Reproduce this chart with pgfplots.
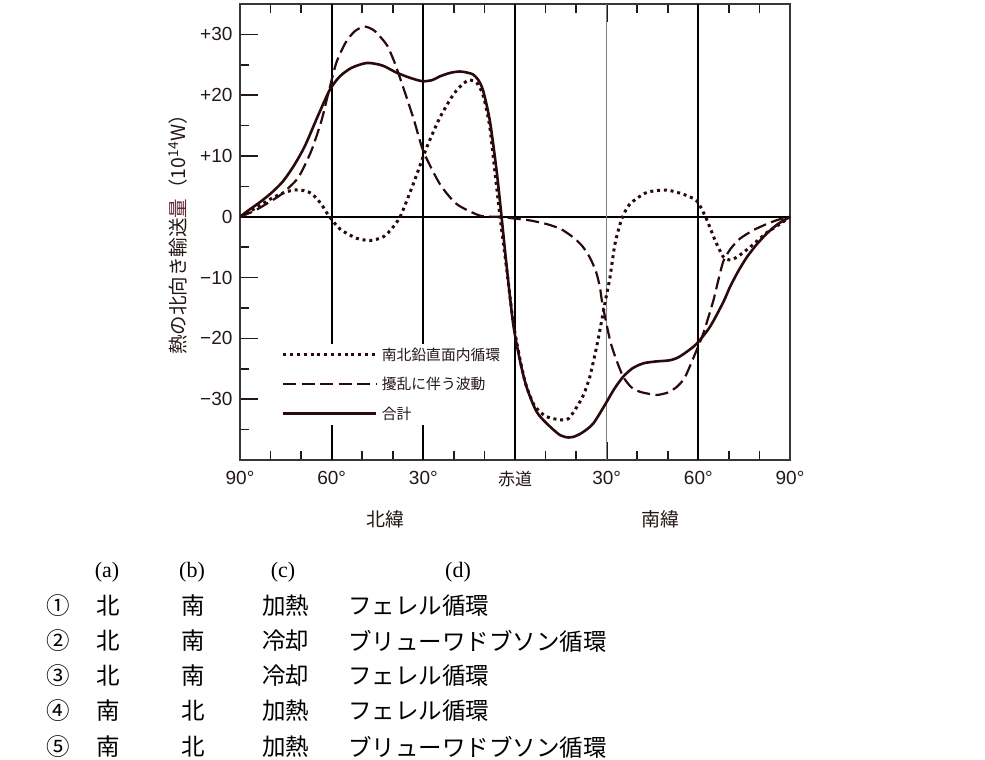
\documentclass[border=0pt]{standalone}
\usepackage{fontspec}
\usepackage{pgfplots}
\pgfplotsset{compat=1.18}
\newfontfamily\jp{Noto Sans CJK JP}
\newfontfamily\lat{Liberation Sans}
\newfontfamily\ser{Liberation Serif}
\definecolor{ink}{RGB}{35,24,21}
\definecolor{curve}{RGB}{42,10,12}
\definecolor{frame}{RGB}{55,55,55}
\definecolor{qty}{RGB}{95,40,50}

\begin{document}
\begin{tikzpicture}
\useasboundingbox (0pt,0pt) rectangle (985pt,-760pt);

\begin{axis}[
  at={(240pt,-460pt)}, anchor=south west,
  scale only axis, width=550pt, height=456pt,
  xmin=-90, xmax=90, ymin=-40, ymax=35,
  axis line style={frame, line width=2.4pt},
  xtick={-90,-60,-30,0,30,60,90},
  xticklabels={90°,60°,30°,{\jp\fontsize{17}{19}\selectfont 赤道},30°,60°,90°},
  minor xtick={-80,-70,-50,-40,-20,-10,10,20,40,50,70,80},
  ytick={-30,-20,-10,0,10,20,30},
  yticklabels={−30,−20,−10,0,+10,+20,+30},
  minor ytick={-35,-25,-15,-5,5,15,25},
  xtick pos=both, ytick pos=left,
  tick align=inside,
  major tick length=18pt, minor tick length=9pt,
  tick style={ink, line width=1.7pt},
  tick label style={text=ink, font=\lat\fontsize{19}{21}\selectfont},
  xticklabel style={yshift=-8pt},
  yticklabel style={xshift=-4pt},
  legend style={at={(rel axis cs:0.072,0.255)}, anchor=north west,
    draw=none, fill=white, inner sep=2pt, row sep=11.5pt, text=ink,
    font=\jp\fontsize{14.8}{17}\selectfont,
    nodes={inner xsep=4pt}},
  legend cell align=left,
  legend image code/.code={\draw[#1] (0pt,0pt) -- (93pt,0pt);},
]
% reference lines
\draw[black, line width=1.8pt] (axis cs:-90,0) -- (axis cs:90,0);
\draw[black, line width=1.8pt] (axis cs:-60,-40) -- (axis cs:-60,35);
\draw[black, line width=1.8pt] (axis cs:-30,-40) -- (axis cs:-30,35);
\draw[black, line width=1.8pt] (axis cs:0,-40) -- (axis cs:0,35);
\draw[gray, line width=1.6pt] (axis cs:30,-40) -- (axis cs:30,35);
\draw[black, line width=1.8pt] (axis cs:60,-40) -- (axis cs:60,35);

% meridional circulation (dotted)
\addplot[curve, line width=3pt, dash pattern=on 3pt off 3.8pt, smooth, tension=0.4] coordinates {
(-90,0) (-85,1.4) (-80.5,2.8) (-76.5,3.8) (-72.5,4.4) (-69,4.3) (-66.5,3.8)
(-63.4,2.1) (-61,0.2) (-57.3,-2.0) (-52,-3.5) (-47.5,-3.9) (-43.5,-3.4)
(-40.9,-2.3) (-37.6,0) (-33.3,5.4) (-28.9,11.4) (-24.6,16.3) (-20.2,20.1)
(-17,21.9) (-14.8,22.5) (-12.5,22.0) (-10.8,20.5) (-9.6,18.3) (-8.2,14.6)
(-6.6,7.5) (-4.9,0) (-2.8,-8.3) (-0.6,-17.3) (1.6,-23.3) (3.5,-27.5)
(6.3,-31.0) (10,-32.8) (14.7,-33.4) (17.5,-33.2) (20.2,-31.3) (22.5,-29.2)
(24.5,-26.3) (26.7,-21.4) (28.4,-17.0) (29.5,-14.0) (31.1,-9.9) (32.7,-4.5)
(34.9,-0.4) (37.6,2.1) (43.1,4.0) (49.6,4.4) (55.1,3.7) (59.5,2.6)
(62.7,-0.4) (65.5,-3.9) (68.2,-6.6) (70.5,-7.1) (73,-6.5) (76.9,-5.0)
(82.4,-2.6) (86.7,-1.2) (90,0)
};
\addlegendentry{南北鉛直面内循環}

% eddies (dashed)
\addplot[curve, line width=2.2pt, dash pattern=on 13pt off 5.5pt, smooth, tension=0.4] coordinates {
(-90,0) (-85.2,1.0) (-79.8,2.6) (-76.5,3.7) (-71,6.4) (-66.7,10.8)
(-63.4,15.7) (-61.2,20.1) (-58.5,25.3) (-55.5,28.6) (-52.5,30.5)
(-49.3,31.3) (-46,30.6) (-42,28.3) (-39.5,25.5) (-37.6,22.8) (-33.3,16.3)
(-30,10.8) (-24.6,5.4) (-19.1,2.1) (-11.5,0.2) (-5,0.0) (0,-0.3) (5,-0.6)
(10.4,-1.2) (15,-2.0) (19.1,-3.4) (22,-4.8) (24.5,-6.7) (26.5,-9.0)
(27.8,-11.6) (28.6,-14.3) (31.1,-20.3) (33,-23.3) (35.4,-26.3) (38,-28.0)
(41,-28.8) (46.3,-29.3) (50,-28.9) (52.9,-28.0) (55.5,-26.5) (58.3,-23.3)
(61.6,-19.2) (64.9,-13.8) (66.5,-10.5) (68.2,-7.3) (70.5,-5.3) (73.6,-3.6)
(78,-2.2) (82.3,-1.2) (86,-0.5) (90,0)
};
\addlegendentry{擾乱に伴う波動}

% total (solid)
\addplot[curve, line width=2.6pt, smooth, tension=0.45] coordinates {
(-90,0) (-87.4,1.0) (-83.5,2.4) (-79.8,3.9) (-76,5.8) (-72.5,8.3) (-68.8,11.6)
(-64.5,16.6) (-60.6,20.9) (-57.3,23.1) (-53.5,24.5) (-48.5,25.3)
(-43.5,24.9) (-38.7,23.7) (-34,22.8) (-30.2,22.3) (-27,22.5) (-24.6,23.1)
(-21,23.7) (-18,23.9) (-15.5,23.7) (-13.7,23.4) (-12,22.5) (-10.4,20.7)
(-8.2,15.7) (-6,7.5) (-4.4,0) (-2.7,-8.3) (-0.6,-17.6) (1.6,-23.6)
(3.8,-28.0) (7,-32.0) (10.4,-34.0) (14.7,-35.9) (17.5,-36.3) (19.1,-36.2)
(22,-35.5) (25.6,-34.0) (29.7,-30.7) (32.5,-28.3) (35.4,-26.3) (38.5,-24.9)
(42,-24.1) (46,-23.8) (50.7,-23.6) (53.5,-23.1) (56.2,-22.2) (59.4,-20.9)
(63.8,-18.1) (68.2,-14.0) (70.3,-11.6) (73,-9.0) (75.8,-6.7) (79,-4.6)
(82.3,-2.8) (86,-1.2) (90,0)
};
\addlegendentry{合計}
\end{axis}

% y label
\node[rotate=90, text=ink, font=\jp\fontsize{19.5}{21}\selectfont] at (178pt,-230pt)
  {熱の北向き輸送{\color{qty}量}（10\textsuperscript{14}W）};

% hemisphere labels
\node[text=ink, font=\jp\fontsize{19}{21}\selectfont] at (385pt,-519pt) {北緯};
\node[text=ink, font=\jp\fontsize{19}{21}\selectfont] at (660pt,-519pt) {南緯};

% answer table
\begin{scope}[font=\ser\fontsize{22}{24}\selectfont, text=black]
\node at (107pt,-572pt) {(a)};
\node at (192pt,-572pt) {(b)};
\node at (283pt,-572pt) {(c)};
\node at (458pt,-572pt) {(d)};
\end{scope}
\begin{scope}[font=\jp\fontsize{23.5}{25}\selectfont, text=black]
\foreach \y/\n/\a/\b/\c/\d in {
  606/①/北/南/加熱/フェレル循環,
  641/②/北/南/冷却/ブリューワドブソン循環,
  676/③/北/南/冷却/フェレル循環,
  711/④/南/北/加熱/フェレル循環,
  747/⑤/南/北/加熱/ブリューワドブソン循環} {
  \node at (58pt,-\y pt) {\n};
  \node at (108pt,-\y pt) {\a};
  \node at (193pt,-\y pt) {\b};
  \node[anchor=west, inner sep=0pt] at (262pt,-\y pt) {\c};
  \node[anchor=west, inner sep=0pt] at (348pt,-\y pt) {\d};
}
\end{scope}
\end{tikzpicture}
\end{document}
